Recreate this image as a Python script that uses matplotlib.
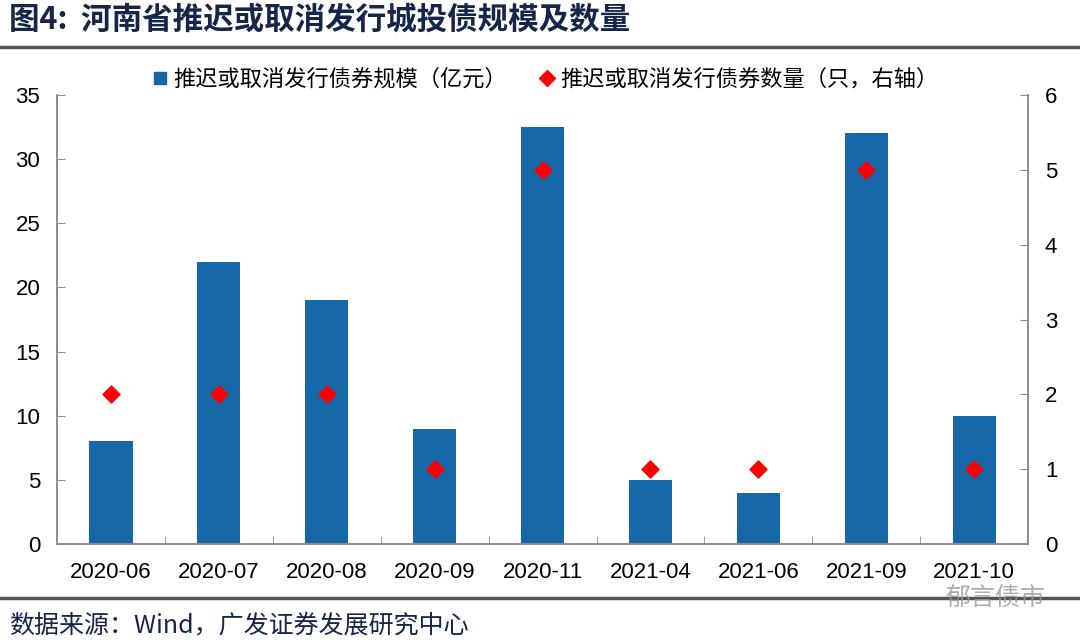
import matplotlib.pyplot as plt
import numpy as np
from matplotlib.lines import Line2D

plt.rcParams['font.family'] = ['Liberation Sans', 'Noto Sans CJK SC', 'DejaVu Sans']

# data
months = ['2020-06', '2020-07', '2020-08', '2020-09', '2020-11',
          '2021-04', '2021-06', '2021-09', '2021-10']
scale = [8, 22, 19, 9, 32.5, 5, 4, 32, 10]      # 亿元
count = [2, 2, 2, 1, 5, 1, 1, 5, 1]              # 只

bar_color = '#1668A8'
spine_color = '#8c8c8c'
cjk = ['Noto Sans CJK SC', 'DejaVu Sans']

fig = plt.figure(figsize=(10.8, 6.41), dpi=100)
ax = fig.add_axes([0.0528, 0.1513, 0.8992, 0.7005])
ax2 = ax.twinx()

x = np.arange(len(months))
ax.bar(x, scale, width=0.4, color=bar_color, zorder=2)
ax2.scatter(x, count, marker='D', s=75, color='#FF0000', zorder=3)

ax.set_xlim(-0.5, len(months) - 0.5)
ax.set_ylim(0, 35)
ax.set_yticks(range(0, 36, 5))
ax2.set_ylim(0, 6)
ax2.set_yticks(range(0, 7))

# category ticks sit between bars
ax.set_xticks(x)
ax.set_xticklabels(months, fontsize=16)
ax.set_xticks(x[:-1] + 0.5, minor=True)
ax.tick_params(axis='x', which='major', length=0, pad=13)
ax.tick_params(axis='x', which='minor', direction='in', length=6, color=spine_color)
ax.tick_params(axis='y', direction='in', length=6, color=spine_color, labelsize=16, pad=12)
ax2.tick_params(axis='y', direction='in', length=6, color=spine_color, labelsize=16, pad=12)

for a in (ax, ax2):
    for side in ['left', 'right', 'bottom']:
        a.spines[side].set_color(spine_color)
        a.spines[side].set_linewidth(1.2)
    a.spines['top'].set_visible(False)

# legend
handles = [
    Line2D([], [], marker='s', color=bar_color, linestyle='none', markersize=9),
    Line2D([], [], marker='D', color='#FF0000', linestyle='none', markersize=8),
]
leg = ax.legend(handles, ['推迟或取消发行债券规模（亿元）', '推迟或取消发行债券数量（只，右轴）'],
                loc='upper center', bbox_to_anchor=(0.5, 1.105), ncol=2, frameon=False,
                handletextpad=0.0, columnspacing=1.2, handlelength=1.2,
                prop={'family': cjk, 'size': 16})

# title, rules and source
fig.text(0.008, 0.970, '图4:  河南省推迟或取消发行城投债规模及数量', fontsize=22,
         fontweight='bold', color='#16264a', family=cjk, va='center')
fig.add_artist(Line2D([0, 1], [0.926, 0.926], color='#555555', linewidth=2.5))
fig.add_artist(Line2D([0, 1], [0.067, 0.067], color='#555555', linewidth=2.5))
fig.text(0.008, 0.024, '数据来源：Wind，广发证券发展研究中心', fontsize=18,
         color='#16264a', family=cjk, va='center')
fig.text(0.968, 0.066, '郁言债市', fontsize=18, color='#9a9a9a', alpha=0.8,
         family=cjk, ha='right', va='center')

fig.savefig('out.png', dpi=100)
plt.close(fig)
